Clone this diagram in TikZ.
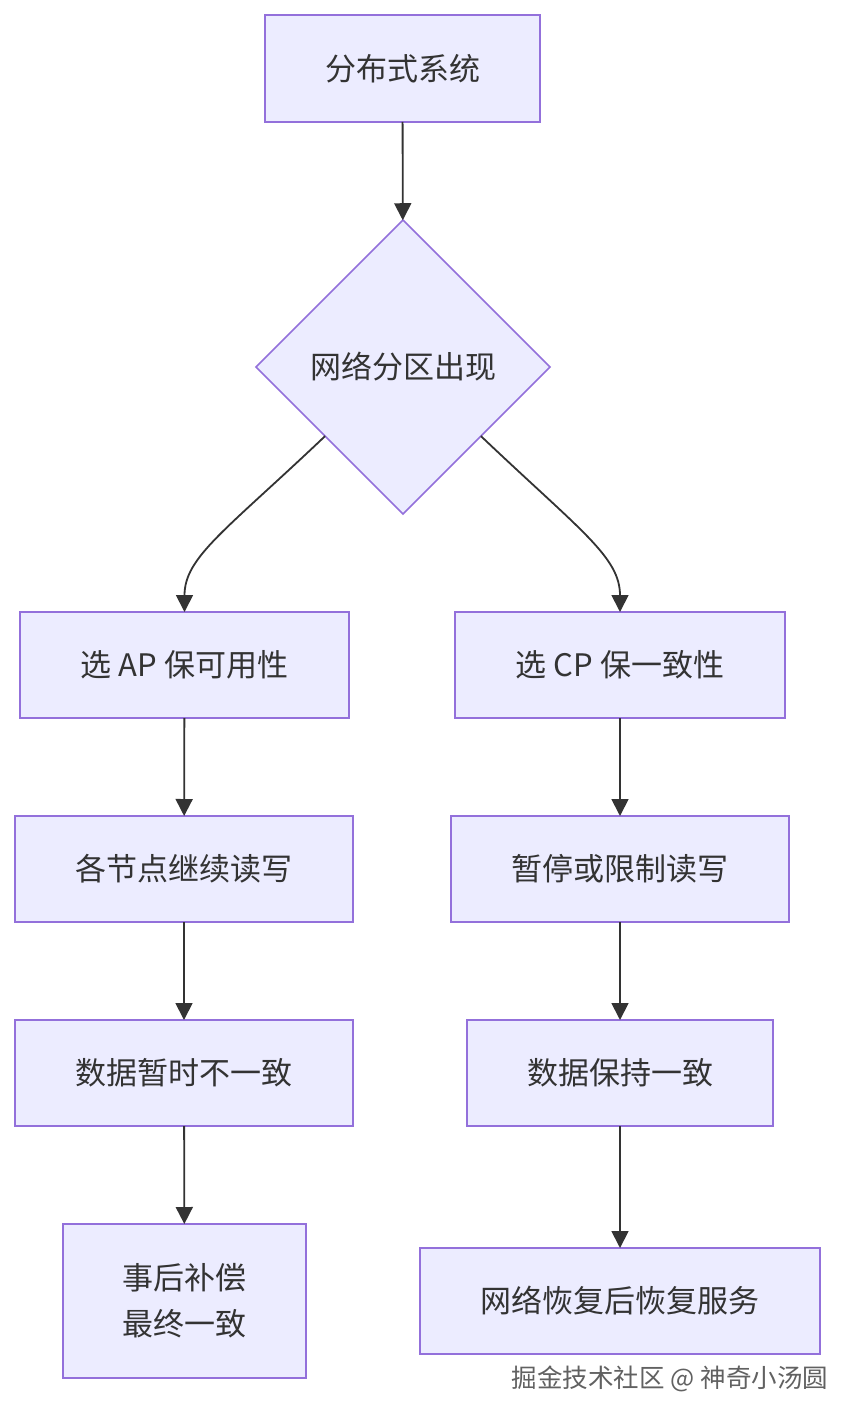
\documentclass[tikz,border=0pt]{standalone}
\usepackage{fontspec}
\setmainfont{Noto Sans CJK SC}
\usetikzlibrary{shapes.geometric,arrows.meta,calc}
\definecolor{boxfill}{HTML}{ECECFF}
\definecolor{boxline}{HTML}{9370DB}
\definecolor{arr}{HTML}{333333}
\definecolor{txt}{HTML}{333333}
\begin{document}
\begin{tikzpicture}[x=1pt,y=-1pt,
  box/.style={draw=boxline,fill=boxfill,line width=1.6pt,text=txt,
    font=\fontsize{31}{46}\selectfont,align=center,inner sep=0pt,outer sep=0pt},
  dec/.style={draw=boxline,fill=boxfill,line width=1.6pt,text=txt,shape=diamond,
    font=\fontsize{31}{46}\selectfont,minimum width=294pt,minimum height=294pt,
    inner sep=0pt,outer sep=0pt,aspect=1},
  link/.style={draw=arr,line width=1.8pt,-{Triangle[length=17pt,width=17pt]}}]
\useasboundingbox[fill=white] (0,0) rectangle (852,1420);
\node[box,minimum width=275pt,minimum height=107pt] (sys) at (402.5,68.5) {分布式系统};
\node[dec] (part) at (403,367) {网络分区出现};
\node[box,minimum width=329pt,minimum height=106pt] (ap) at (184.5,665) {选 AP 保可用性};
\node[box,minimum width=330pt,minimum height=106pt] (cp) at (620,665) {选 CP 保一致性};
\node[box,minimum width=338pt,minimum height=106pt] (ap1) at (184,869) {各节点继续读写};
\node[box,minimum width=338pt,minimum height=106pt] (cp1) at (620,869) {暂停或限制读写};
\node[box,minimum width=338pt,minimum height=106pt] (ap2) at (184,1073) {数据暂时不一致};
\node[box,minimum width=306pt,minimum height=106pt] (cp2) at (620,1073) {数据保持一致};
\node[box,minimum width=243pt,minimum height=154pt] (ap3) at (184.5,1301) {事后补偿\\最终一致};
\node[box,minimum width=400pt,minimum height=106pt] (cp3) at (620,1301) {网络恢复后恢复服务};
\coordinate (sl) at ($(part.west)!0.47!(part.south)$);
\coordinate (sr) at ($(part.east)!0.47!(part.south)$);
\draw[link] (sys) -- (part);
\draw[link] (sl) .. controls ($(sl)+(-100,95)$) and ($(ap.north)+(0,-55)$) .. (ap.north);
\draw[link] (sr) .. controls ($(sr)+(100,95)$) and ($(cp.north)+(0,-55)$) .. (cp.north);
\draw[link] (ap) -- (ap1);
\draw[link] (ap1) -- (ap2);
\draw[link] (ap2) -- (ap3);
\draw[link] (cp) -- (cp1);
\draw[link] (cp1) -- (cp2);
\draw[link] (cp2) -- (cp3);
\node[text=white,font=\fontsize{25.5}{28}\selectfont,anchor=center] (wmh) at (671.5,1380) {掘金技术社区 @ 神奇小汤圆};
\node[text=black!62,font=\fontsize{25.5}{28}\selectfont,anchor=center] (wm) at (670,1378.5) {掘金技术社区 @ 神奇小汤圆};
\end{tikzpicture}
\end{document}
